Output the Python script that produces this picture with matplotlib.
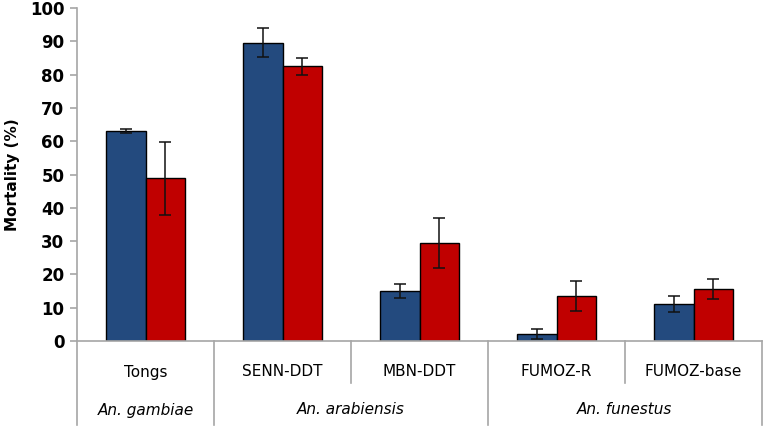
import matplotlib
matplotlib.use("Agg")
import matplotlib.pyplot as plt
import numpy as np

categories = ["Tongs", "SENN-DDT", "MBN-DDT", "FUMOZ-R", "FUMOZ-base"]
groups = ["An. gambiae", "An. arabiensis", "An. funestus"]
group_spans = [(0, 1), (1, 3), (3, 5)]  # category index ranges
blue_vals = [63.2, 89.6, 15.0, 2.1, 11.1]
blue_err = [0.6, 4.4, 2.0, 1.6, 2.5]
red_vals = [48.8, 82.5, 29.5, 13.5, 15.5]
red_err = [11.0, 2.5, 7.5, 4.5, 3.0]
yticks = [0, 10, 20, 30, 40, 50, 60, 70, 80, 90, 100]

W, H = 766, 429
fig = plt.figure(figsize=(W / 100, H / 100), dpi=100)
L, R, T, B = 77, 762, 8, 341
ax = fig.add_axes([L / W, (H - B) / H, (R - L) / W, (B - T) / H])

x = np.arange(len(categories))
bw = 0.285
blue = "#234A7E"
red = "#C00000"
ax.bar(x - bw / 2, blue_vals, bw, color=blue, edgecolor="black", linewidth=1.0, zorder=2)
ax.bar(x + bw / 2, red_vals, bw, color=red, edgecolor="black", linewidth=1.0, zorder=2)
ax.errorbar(x - bw / 2, blue_vals, yerr=blue_err, fmt="none", ecolor="#111111",
            elinewidth=1.1, capsize=4.3, capthick=1.1, zorder=3)
ax.errorbar(x + bw / 2, red_vals, yerr=red_err, fmt="none", ecolor="#111111",
            elinewidth=1.1, capsize=4.3, capthick=1.1, zorder=3)

ax.set_xlim(-0.5, len(categories) - 0.5)
ax.set_ylim(0, 100)
ax.set_yticks(yticks)
ax.set_yticklabels([str(v) for v in yticks], fontsize=12, fontweight="bold")
ax.set_xticks([])
gray = "#A6A6A6"
for s in ["top", "right"]:
    ax.spines[s].set_visible(False)
ax.spines["left"].set_visible(False)
ax.spines["bottom"].set_color(gray)
ax.spines["bottom"].set_linewidth(1.2)
ax.tick_params(axis="y", direction="out", length=5, color=gray, width=1.2, pad=4)
ax.set_ylabel("Mortality (%)", fontsize=11, fontweight="bold", labelpad=7)

# axes-fraction positions
ph = B - T
def yf(py):
    return -(py - B) / ph

trans = ax.get_xaxis_transform()
# left axis line extended below
ax.plot([-0.5, -0.5], [1.0, yf(425)], color=gray, lw=1.2, transform=trans, clip_on=False)
ax.plot([len(categories) - 0.5] * 2, [0, yf(425)], color=gray, lw=1.2, transform=trans, clip_on=False)
group_bounds = set()
for a, b in group_spans:
    group_bounds.add(a)
    group_bounds.add(b)
for i in range(1, len(categories)):
    bottom = yf(425) if i in group_bounds else yf(383)
    ax.plot([i - 0.5, i - 0.5], [0, bottom], color=gray, lw=1.2, transform=trans, clip_on=False)

for i, c in enumerate(categories):
    ax.text(i, yf(372), c, transform=trans, ha="center", va="center", fontsize=11)
for g, (a, b) in zip(groups, group_spans):
    ax.text((a + b - 1) / 2, yf(410), g, transform=trans, ha="center", va="center",
            fontsize=11, style="italic")

fig.savefig("out.png", dpi=100)
